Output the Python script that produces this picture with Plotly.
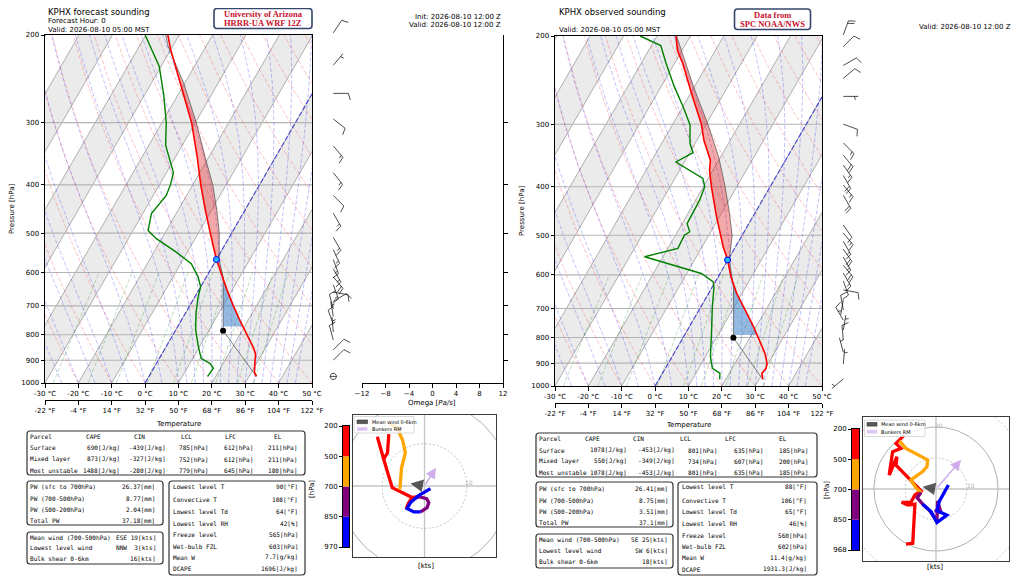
import numpy as np
import plotly.graph_objects as go

# the page body keeps an 8 px margin, so the figure is sized to fill the rest of the window
OX, OY = 8, 8
W, H = 1024 - OX, 578 - OY
MONO = "DejaVu Sans Mono"
SANS = "DejaVu Sans"

# ---------------- KPHX forecast sounding (left) ----------------
fc_p = [970, 950, 900, 875, 850, 800, 750, 700, 650, 600, 565, 500, 450, 400, 350, 300, 250, 214, 200]
fc_t = [32.2, 30.8, 29.0, 28.1, 26.4, 22.1, 17.7, 13.1, 8.4, 3.6, 0.0, -6.4, -11.8, -17.6, -23.7, -31.1, -41.3, -50.0, -53.4]
fc_td_p = [970, 934, 913, 893, 872, 839, 783, 725, 672, 641, 612, 576, 546, 513, 494, 457, 420, 400, 378, 333, 300, 263, 231, 200]
fc_td = [17.6, 17.9, 16.0, 12.6, 11.3, 9.3, 6.0, 3.2, 1.0, 0.0, -2.5, -6.8, -13.3, -21.6, -25.5, -27.4, -26.1, -26.7, -27.9, -35.0, -38.7, -44.4, -50.6, -60.2]
fc_parcel_p = [970, 785, 770, 700, 650, 612, 565, 500, 450, 400, 350, 300, 250, 211, 200]
fc_parcel_t = [32.2, 14.3, 13.6, 10.0, 7.2, 5.0, 0.8, -3.7, -8.4, -14.0, -21.4, -29.7, -40.3, -51.3, -54.0]
fc_lcl, fc_lfc, fc_el, fc_cin_base, fc_freeze = 785, 612, 211, 770, 565

fc_barb_p = [198, 230, 262, 295, 334, 378, 420, 456, 510, 540, 565, 590, 612, 635, 657, 685, 710, 735, 762, 790, 820, 858, 900, 970]
fc_barb_dir = [34, 40, 90, 128, 140, 142, 135, 150, 150, 155, 160, 150, 140, 160, 100, 60, 345, 350, 340, 355, 345, 45, 45, 340]
fc_barb_spd = [10, 5, 10, 10, 15, 15, 10, 15, 15, 15, 15, 15, 20, 15, 10, 10, 10, 5, 10, 5, 10, 10, 10, 3]

fc_hodo_red_u = [-11.1, -9.6, -8.7, -8.4, None, -9.6, -7.6, -2.9, -1.3, None, -2.9, -3.7, -4.3]
fc_hodo_red_v = [11.6, 6.3, 7.8, 12.2, None, 6.3, -0.4, -2.7, -2.5, None, -2.7, -3.9, -5.3]
fc_hodo_orange_u = [-8.2, -6.4, -5.1, -4.5, -5.4, -5.8]
fc_hodo_orange_v = [14.5, 13.7, 10.6, 7.8, 4.3, -0.8]
fc_hodo_purple_u = [-0.9, 0.6, 1.0, 0.5, -1.3, -2.5]
fc_hodo_purple_v = [-6.1, -5.1, -3.9, -3.0, -2.5, -3.0]
fc_hodo_blue_u = [1.4, -1.3, -3.3, -4.1, -2.5, -0.9]
fc_hodo_blue_v = [-0.6, -2.2, -3.9, -5.3, -6.1, -6.1]
fc_mean_wind = (-3.3, 0.6)
fc_bunkers = (2.7, 4.3)
fc_cbar_labels = ["970", "850", "700", "500", "200"]

fc_parcel_table = [["Parcel", "CAPE", "CIN", "LCL", "LFC", "EL"],
                   ["Surface", "690[J/kg]", "-439[J/kg]", "785[hPa]", "612[hPa]", "211[hPa]"],
                   ["Mixed layer", "873[J/kg]", "-327[J/kg]", "752[hPa]", "612[hPa]", "211[hPa]"],
                   ["Most unstable", "1488[J/kg]", "-280[J/kg]", "779[hPa]", "645[hPa]", "180[hPa]"]]
fc_pw_table = [["PW (sfc to 700hPa)", "26.37[mm]"], ["PW (700-500hPa)", "8.77[mm]"],
               ["PW (500-200hPa)", "2.04[mm]"], ["Total PW", "37.18[mm]"]]
fc_wind_table = [["Mean wind (700-500hPa)", "ESE 19[kts]"], ["Lowest level wind", "NNW  3[kts]"],
                 ["Bulk shear 0-6km", "16[kts]"]]
fc_misc_table = [["Lowest level T", "90[°F]"], ["Convective T", "108[°F]"], ["Lowest level Td", "64[°F]"],
                 ["Lowest level RH", "42[%]"], ["Freeze level", "565[hPa]"], ["Wet-bulb FZL", "603[hPa]"],
                 ["Mean W", "7.7[g/kg]"], ["DCAPE", "1696[J/kg]"]]

# ---------------- KPHX observed sounding (right) ----------------
ob_p = [970, 943, 922, 901, 861, 810, 761, 705, 653, 605, 561, 527, 488, 459, 400, 371, 354, 323, 299, 265, 227, 214, 200]
ob_t = [31.1, 29.8, 30.2, 29.6, 27.3, 23.3, 19.2, 13.8, 8.4, 3.8, 0.0, -3.7, -7.8, -10.9, -17.6, -21.0, -22.5, -27.9, -31.6, -38.7, -47.5, -51.3, -54.3]
ob_td_p = [970, 943, 922, 874, 772, 694, 634, 619, 596, 552, 531, 500, 492, 474, 426, 400, 385, 357, 342, 328, 301, 277, 253, 227, 209, 200]
ob_td = [18.2, 17.2, 14.1, 11.5, 7.2, 3.4, 0.5, -0.7, -5.6, -25.5, -17.0, -17.3, -16.3, -18.5, -18.8, -19.6, -21.6, -32.5, -29.0, -31.5, -34.7, -39.9, -45.9, -52.5, -57.2, -65.0]
ob_parcel_p = [970, 801, 791, 700, 635, 560, 500, 450, 400, 350, 300, 250, 200]
ob_parcel_t = [31.1, 15.1, 14.7, 10.1, 6.4, 0.4, -3.0, -7.8, -13.5, -20.4, -29.5, -40.9, -54.1]
ob_lcl, ob_lfc, ob_el, ob_cin_base, ob_freeze = 801, 635, 200, 791, 560

ob_barb_p = [199, 210, 229, 243, 264, 300, 327, 346, 362, 380, 397, 416, 477, 495, 514, 533, 553, 574, 595, 617, 643, 673, 705, 739, 773, 810, 856, 904, 968]
ob_barb_dir = [20, 45, 60, 50, 90, 110, 135, 140, 145, 150, 140, 150, 145, 140, 150, 145, 150, 140, 150, 160, 100, 190, 350, 330, 10, 355, 345, 5, 230]
ob_barb_spd = [20, 10, 10, 10, 5, 10, 15, 20, 15, 20, 15, 20, 10, 15, 15, 20, 15, 20, 15, 10, 10, 5, 10, 10, 5, 10, 5, 5, 6]

ob_hodo_red_u = [-10.4, -12.9, -11.3, -14.0, -15.1, -12.6, -12.9, -8.1, -4.8, -6.8, -8.1, -11.1, -9.1, -6.8, -7.5, -9.7]
ob_hodo_red_v = [17.2, 14.7, 13.1, 12.0, 4.5, 10.4, 7.7, 2.9, -0.6, -1.9, -4.3, -4.3, -5.2, -4.9, -17.5, -17.8]
ob_hodo_orange_u = [-11.8, -9.7, -2.7, -2.9, -4.3, -8.1, -6.5, -4.8]
ob_hodo_orange_v = [15.5, 13.1, 9.4, 7.2, 5.6, 2.9, 0.4, -1.1]
ob_hodo_purple_u = [-4.8, -6.1, -4.3, -2.2, 0.3, 0.5, 1.6, -0.5]
ob_hodo_purple_v = [-1.1, -2.8, -4.9, -6.8, -10.3, -3.9, -7.5, -7.0]
ob_hodo_blue_u = [4.0, 1.1, 0.3, 3.5, 0.3, -1.6, -4.3]
ob_hodo_blue_v = [1.3, -3.9, -7.0, -8.4, -10.8, -7.3, -4.9]
ob_mean_wind = (-4.3, 0.75)
ob_bunkers = (8.1, 9.4)
ob_cbar_labels = ["968", "850", "700", "500", "200"]

ob_parcel_table = [["Parcel", "CAPE", "CIN", "LCL", "LFC", "EL"],
                   ["Surface", "1078[J/kg]", "-453[J/kg]", "801[hPa]", "635[hPa]", "185[hPa]"],
                   ["Mixed layer", "550[J/kg]", "-349[J/kg]", "734[hPa]", "607[hPa]", "200[hPa]"],
                   ["Most unstable", "1078[J/kg]", "-453[J/kg]", "801[hPa]", "635[hPa]", "185[hPa]"]]
ob_pw_table = [["PW (sfc to 700hPa)", "26.41[mm]"], ["PW (700-500hPa)", "8.75[mm]"],
               ["PW (500-200hPa)", "3.51[mm]"], ["Total PW", "37.1[mm]"]]
ob_wind_table = [["Mean wind (700-500hPa)", "SE 25[kts]"], ["Lowest level wind", "SW 6[kts]"],
                 ["Bulk shear 0-6km", "18[kts]"]]
ob_misc_table = [["Lowest level T", "88[°F]"], ["Convective T", "106[°F]"], ["Lowest level Td", "65[°F]"],
                 ["Lowest level RH", "46[%]"], ["Freeze level", "560[hPa]"], ["Wet-bulb FZL", "602[hPa]"],
                 ["Mean W", "11.4[g/kg]"], ["DCAPE", "1931.3[J/kg]"]]

# shared axis labels
t_ticks = list(range(-30, 51, 10))
f_ticks = list(range(-22, 123, 18))
p_ticks = [200, 300, 400, 500, 600, 700, 800, 900, 1000]
omega_ticks = [-12, -8, -4, 0, 4, 8, 12]
layer_colors = ["blue", "purple", "orange", "red"]


def fx(px):
    return (px - OX) / W


def fy(py):
    return 1 - (py - OY) / H


def interp_logp(pn, p, t):
    p = np.asarray(p, float)
    t = np.asarray(t, float)
    o = np.argsort(p)
    return np.interp(np.log(pn), np.log(p[o]), t[o])


def moist_adiabats(t0, p):
    Rd, Cp, Lv, eps = 287.04, 1005.7, 2.501e6, 0.622

    def f(pp, T):
        tc = T - 273.15
        es = 6.112 * np.exp(17.67 * tc / (tc + 243.5))
        rs = eps * es / (pp - es)
        return (Rd * T + Lv * rs) / (Cp + Lv * Lv * rs * eps / (Rd * T * T)) / pp

    T = np.asarray(t0, float) + 273.15
    out = [T.copy()]
    for i in range(1, len(p)):
        h = p[i] - p[i - 1]
        k1 = f(p[i - 1], T)
        k2 = f(p[i - 1] + h / 2, T + h / 2 * k1)
        k3 = f(p[i - 1] + h / 2, T + h / 2 * k2)
        k4 = f(p[i], T + h * k3)
        T = T + h / 6 * (k1 + 2 * k2 + 2 * k3 + k4)
        out.append(T.copy())
    return np.array(out).T - 273.15


fig = go.Figure()
shapes, annos = [], []
NOHOVER = dict(hoverinfo="skip", showlegend=False)


def lines_trace(xs_list, ys_list, xa, ya, color, width, dash=None):
    X, Y = [], []
    for xs, ys in zip(xs_list, ys_list):
        X += list(xs) + [None]
        Y += list(ys) + [None]
    fig.add_trace(go.Scatter(x=X, y=Y, mode="lines", xaxis=xa, yaxis=ya,
                             line=dict(color=color, width=width, dash=dash), **NOHOVER))


def add_skewt(g, xa, ya, env_p, env_t, td_p, td_t, par_p, par_t, lcl, lfc, el, cin_base, frz):
    skew = (g["bot"] - g["top"]) * np.tan(np.radians(30)) / ((g["x1"] - g["x0"]) / 80.0) / np.log10(5)

    def sx(t, p):
        return (np.asarray(t, float) + skew * np.log10(1000.0 / np.asarray(p, float))).tolist()

    # shaded isotherm bands
    bx, by = [], []
    for t0 in range(-120, 60, 20):
        bx += sx([t0, t0 + 10, t0 + 10, t0], [1000, 1000, 200, 200]) + [None]
        by += [1000, 1000, 200, 200, None]
    fig.add_trace(go.Scatter(x=bx, y=by, mode="lines", fill="toself", fillcolor="rgba(0,0,0,0.08)",
                             line=dict(width=0), xaxis=xa, yaxis=ya, **NOHOVER))
    iso = list(range(-110, 60, 10))
    lines_trace([sx([t, t], [1000, 200]) for t in iso], [[1000, 200]] * len(iso), xa, ya, "#a6a6a6", 0.9)
    lines_trace([[-30, 50] for _ in p_ticks[1:-1]], [[p, p] for p in p_ticks[1:-1]], xa, ya, "#b4b4b4", 1.1)

    pp = np.linspace(1000, 200, 81)
    dry = [(t0 + 273.15) * (pp / 1000.0) ** 0.2857 - 273.15 for t0 in range(-40, 200, 10)]
    lines_trace([sx(t, pp) for t in dry], [pp] * len(dry), xa, ya, "rgba(255,0,0,0.3)", 0.8, "4px,2px")
    m0 = np.concatenate((np.arange(-50.0, 10.1, 5.0), np.arange(12.5, 45.1, 2.5)))
    moist = moist_adiabats(m0, pp)
    lines_trace([sx(t, pp) for t in moist], [pp] * len(moist), xa, ya, "rgba(0,0,255,0.3)", 0.8, "4px,2px")
    pm = np.linspace(1000, 600, 21)
    mix = []
    for w in [0.0004, 0.001, 0.002, 0.004, 0.007, 0.01, 0.016, 0.024, 0.032]:
        e = pm * w / (0.622 + w)
        le = np.log(e / 6.112)
        mix.append(243.5 * le / (17.67 - le))
    lines_trace([sx(t, pm) for t in mix], [pm] * len(mix), xa, ya, "rgba(0,128,0,0.33)", 0.8, "4px,2px")
    lines_trace([sx([0, 0], [1000, 200])], [[1000, 200]], xa, ya, "rgba(40,40,220,0.75)", 1.2, "5px,2px")

    # CIN / CAPE shading
    def band(p_top, p_bot, color):
        lv = sorted(set([p for p in list(env_p) + list(par_p) if p_top < p < p_bot] + [p_top, p_bot]), reverse=True)
        te = interp_logp(lv, env_p, env_t)
        tp = interp_logp(lv, par_p, par_t)
        fig.add_trace(go.Scatter(x=sx(te, lv) + sx(tp[::-1], lv[::-1]), y=lv + lv[::-1], mode="lines",
                                 fill="toself", fillcolor=color, line=dict(width=0), xaxis=xa, yaxis=ya, **NOHOVER))

    band(lfc, cin_base, "rgba(60,130,200,0.55)")
    band(el, lfc, "rgba(225,40,40,0.4)")

    lines_trace([sx(par_t, par_p)], [par_p], xa, ya, "rgba(70,70,70,0.75)", 0.9)
    lines_trace([sx(env_t, env_p)], [env_p], xa, ya, "red", 1.6)
    lines_trace([sx(td_t, td_p)], [td_p], xa, ya, "green", 1.4)
    fig.add_trace(go.Scatter(x=sx([interp_logp(lcl, par_p, par_t)], [lcl]), y=[lcl], mode="markers",
                             marker=dict(color="black", size=6), xaxis=xa, yaxis=ya, **NOHOVER))
    fig.add_trace(go.Scatter(x=sx([interp_logp(frz, env_p, env_t)], [frz]), y=[frz], mode="markers",
                             marker=dict(color="#22b4ff", size=6, line=dict(color="blue", width=1)),
                             xaxis=xa, yaxis=ya, **NOHOVER))


def add_barbs(xa, ya, x_tip, k, bp, bd, bs):
    L, fl, sp, lean = 15.0, 7.0, 2.6, np.radians(17)
    X, Y = [], []
    for p, d, s in zip(bp, bd, bs):
        th = np.radians(d)
        ux, uy = np.sin(th), -np.cos(th)
        qx, qy = -uy, ux

        def pt(a, b):
            return x_tip + a * ux + b * qx, p * 10 ** ((a * uy + b * qy) * k)

        if s < 4:
            ang = np.linspace(0, 2 * np.pi, 25)
            X += list(x_tip + 3.2 * np.cos(ang)) + [None, x_tip - 3.2, x_tip + 3.2, None]
            Y += list(p * 10 ** (3.2 * np.sin(ang) * k)) + [None, p, p, None]
            continue
        r = int(5 * round(s / 5.0))
        nf, nh = r // 10, (r % 10) // 5
        segs = [(pt(0, 0), pt(L, 0))]
        for i in range(nf):
            a = L - i * sp
            segs.append((pt(a, 0), pt(a + fl * np.sin(lean), fl * np.cos(lean))))
        if nh:
            a = L - nf * sp if nf else L - 1.5 * sp
            segs.append((pt(a, 0), pt(a + 0.5 * fl * np.sin(lean), 0.5 * fl * np.cos(lean))))
        for p0, p1 in segs:
            X += [p0[0], p1[0], None]
            Y += [p0[1], p1[1], None]
    fig.add_trace(go.Scatter(x=X, y=Y, mode="lines", xaxis=xa, yaxis=ya,
                             line=dict(color="black", width=0.7), **NOHOVER))


def add_hodo(xa, ya, segs, mean_uv, bunk_uv, ring_labels):
    ang = np.linspace(0, 2 * np.pi, 121)
    for r in [10, 20, 30, 40]:
        dotted = r in (10, 30)
        lines_trace([r * np.cos(ang)], [r * np.sin(ang)], xa, ya, "#c6c6c6" if dotted else "#b0b0b0",
                    1.0, "2px,2px" if dotted else None)
    lines_trace([[-50, 50], [0, 0]], [[0, 0], [-50, 50]], xa, ya, "#c4c4c4", 1.3)
    for (u, v), c in zip(segs, ["red", "orange", "purple", "blue"]):
        lines_trace([u], [v], xa, ya, c, 3.3)
    annos.append(dict(x=mean_uv[0], y=mean_uv[1], ax=0, ay=0, xref=xa, yref=ya, axref=xa, ayref=ya, text="",
                      showarrow=True, arrowhead=2, arrowsize=1.4, arrowwidth=1.8, arrowcolor="rgba(60,60,60,0.85)"))
    annos.append(dict(x=bunk_uv[0], y=bunk_uv[1], ax=0, ay=0, xref=xa, yref=ya, axref=xa, ayref=ya, text="",
                      showarrow=True, arrowhead=2, arrowsize=1.4, arrowwidth=1.5, arrowcolor="rgba(200,160,235,0.85)"))
    for (u, v, s) in ring_labels:
        annos.append(dict(x=u, y=v, xref=xa, yref=ya, text=s, showarrow=False,
                          font=dict(family=SANS, size=6, color="#b0b0b0")))


def add_cbar(xa, ya, labels):
    fig.add_trace(go.Bar(x=[0.5] * 4, y=[1] * 4, base=[0, 1, 2, 3], width=[1] * 4,
                         marker=dict(color=layer_colors, line=dict(width=0)), xaxis=xa, yaxis=ya, **NOHOVER))
    return dict(range=[0, 4], tickvals=[0, 1, 2, 3, 4], ticktext=labels)


def txt(x, y, s, size=6.1, anchor="left", family=MONO, color="black", angle=0):
    annos.append(dict(x=fx(x), y=fy(y), xref="paper", yref="paper", text=s, showarrow=False, xanchor=anchor,
                      yanchor="middle", textangle=angle, borderpad=0,
                      font=dict(family=family, size=size, color=color)))


def rbox(x0, y0, x1, y1, r=3.0, color="#333333", width=1.2):
    X0, X1, Y0, Y1 = fx(x0), fx(x1), fy(y0), fy(y1)
    rx, ry = r / W, r / H
    path = (f"M {X0 + rx},{Y0} L {X1 - rx},{Y0} Q {X1},{Y0} {X1},{Y0 - ry} L {X1},{Y1 + ry} "
            f"Q {X1},{Y1} {X1 - rx},{Y1} L {X0 + rx},{Y1} Q {X0},{Y1} {X0},{Y1 + ry} "
            f"L {X0},{Y0 - ry} Q {X0},{Y0} {X0 + rx},{Y0} Z")
    shapes.append(dict(type="path", xref="paper", yref="paper", path=path,
                       line=dict(color=color, width=width), fillcolor="rgba(0,0,0,0)"))


def rect(x0, y0, x1, y1, fill, line="rgba(0,0,0,0)"):
    shapes.append(dict(type="rect", xref="paper", yref="paper", x0=fx(x0), x1=fx(x1), y0=fy(y1), y1=fy(y0),
                       fillcolor=fill, line=dict(color=line, width=0.6)))


def tables(parcel, pw, wind, misc, g):
    rbox(*g["t1"])
    for i, row in enumerate(parcel):
        y = g["t1_rows"][i]
        txt(g["t1_hx"][0], y, row[0])
        for j in range(1, 6):
            if i == 0:
                txt(g["t1_hx"][j], y, row[j])
            else:
                txt(g["t1_vx"][j - 1], y, row[j], anchor="right")
    for box, rows, data, lx, vx in [(g["t2"], g["t2_rows"], pw, g["t2"][0] + 1.5, g["t2_vx"]),
                                    (g["t3"], g["t3_rows"], wind, g["t3"][0] + 1.5, g["t3_vx"]),
                                    (g["t4"], g["t4_rows"], misc, g["t4"][0] + 2.5, g["t4_vx"])]:
        rbox(*box)
        for (a, b), y in zip(data, rows):
            txt(lx, y, a)
            txt(vx, y, b, anchor="right")


# ---------------- geometry (window pixels) ----------------
LG = dict(x0=45, x1=312, top=35, bot=383, fpos=400)
RG = dict(x0=555, x1=822, top=36, bot=386, fpos=403)
LT = dict(t1=(27, 431, 305, 475), t1_rows=[436, 447.5, 459, 470.5],
          t1_hx=[28.5, 85, 133, 180, 224, 272.5], t1_vx=[120.5, 167, 208.5, 253.5, 298],
          t2=(27, 481, 163, 525), t2_rows=[486.7, 498.3, 509.5, 520.5], t2_vx=156,
          t3=(27, 532, 163, 564), t3_rows=[537, 547.7, 558.3], t3_vx=157,
          t4=(169, 481, 305, 575), t4_rows=[487, 499.5, 511.5, 523, 534.8, 546, 557, 568.5], t4_vx=299)
RT = dict(t1=(536, 433, 817, 477), t1_rows=[438.5, 450, 461.2, 472.7],
          t1_hx=[537.5, 583.5, 632, 678.5, 723.5, 777.5], t1_vx=[627.5, 675.5, 717.5, 763.5, 808.5],
          t2=(536, 482, 673, 527), t2_rows=[488.5, 500, 511.5, 522.5], t2_vx=668.5,
          t3=(536, 534, 673, 568), t3_rows=[539.5, 550.3, 561], t3_vx=668.5,
          t4=(678, 482, 817, 575), t4_rows=[487, 500, 511.7, 523.3, 535.7, 546.7, 557.7, 569.3], t4_vx=807.5)

add_skewt(LG, "x", "y", fc_p, fc_t, fc_td_p, fc_td, fc_parcel_p, fc_parcel_t,
          fc_lcl, fc_lfc, fc_el, fc_cin_base, fc_freeze)
add_skewt(RG, "x7", "y7", ob_p, ob_t, ob_td_p, ob_td, ob_parcel_p, ob_parcel_t,
          ob_lcl, ob_lfc, ob_el, ob_cin_base, ob_freeze)

kL = np.log10(5) / (LG["bot"] - LG["top"])
kR = np.log10(5) / (RG["bot"] - RG["top"])
add_barbs("x3", "y3", 333.3, kL, fc_barb_p, fc_barb_dir, fc_barb_spd)
add_barbs("x9", "y9", 843.3, kR, ob_barb_p, ob_barb_dir, ob_barb_spd)

# placeholders so empty axes are drawn
for xa, ya, xv, yv in [("x2", "y", 0, 500), ("x4", "y4", 0, 500), ("x8", "y7", 0, 500)]:
    fig.add_trace(go.Scatter(x=[xv], y=[yv], mode="markers", marker=dict(opacity=0), xaxis=xa, yaxis=ya, **NOHOVER))

add_hodo("x5", "y5", [(fc_hodo_red_u, fc_hodo_red_v), (fc_hodo_orange_u, fc_hodo_orange_v),
                      (fc_hodo_purple_u, fc_hodo_purple_v), (fc_hodo_blue_u, fc_hodo_blue_v)],
         fc_mean_wind, fc_bunkers, [(10.4, 0.9, "10")])
add_hodo("x10", "y10", [(ob_hodo_red_u, ob_hodo_red_v), (ob_hodo_orange_u, ob_hodo_orange_v),
                        (ob_hodo_purple_u, ob_hodo_purple_v), (ob_hodo_blue_u, ob_hodo_blue_v)],
         ob_mean_wind, ob_bunkers, [(11.2, 1.0, "10"), (0.9, 20.6, "20")])
cbL = add_cbar("x6", "y6", fc_cbar_labels)
cbR = add_cbar("x11", "y11", ob_cbar_labels)

tables(fc_parcel_table, fc_pw_table, fc_wind_table, fc_misc_table, LT)
tables(ob_parcel_table, ob_pw_table, ob_wind_table, ob_misc_table, RT)

# hodograph legends
for (bx0, by0, bx1, by1, px0, px1, ty1, ty2) in [(354, 416.5, 414, 433, 357, 367.5, 421.8, 429),
                                                  (864.5, 420, 925, 436.5, 867, 877, 424.3, 431.7)]:
    shapes.append(dict(type="rect", xref="paper", yref="paper", x0=fx(bx0), x1=fx(bx1), y0=fy(by1), y1=fy(by0),
                       fillcolor="rgba(255,255,255,0.8)", line=dict(color="#d0d0d0", width=0.8)))
    rect(px0, ty1 - 1.8, px1, ty1 + 1.8, "rgba(60,60,60,0.85)", "#333")
    rect(px0, ty2 - 1.8, px1, ty2 + 1.8, "rgba(200,160,235,0.6)")
    txt(px1 + 3, ty1, "Mean wind 0-6km", size=5, family=SANS)
    txt(px1 + 3, ty2, "Bunkers RM", size=5, family=SANS)

# headers
txt(47, 12, "KPHX forecast sounding", size=8.5, family=SANS)
txt(47, 21.5, "Forecast Hour: 0", size=7, family=SANS)
txt(47, 30, "Valid: 2026-08-10 05:00 MST", size=7, family=SANS)
txt(502, 17, "Init: 2026-08-10 12:00 Z", size=7, family=SANS, anchor="right")
txt(502, 25.5, "Valid: 2026-08-10 12:00 Z", size=7, family=SANS, anchor="right")
rbox(214, 8.5, 312, 28.5, r=3, color="#34466b", width=1.6)
txt(263, 14, "<b>University of Arizona</b>", size=8.5, family="Liberation Serif", anchor="center", color="#c8102e")
txt(263, 23, "<b>HRRR-UA WRF 12Z</b>", size=8.5, family="Liberation Serif", anchor="center", color="#c8102e")

txt(558, 12, "KPHX observed sounding", size=8.5, family=SANS)
txt(558, 30, "Valid: 2026-08-10 05:00 MST", size=7, family=SANS)
txt(1012, 27, "Valid: 2026-08-10 12:00 Z", size=7, family=SANS, anchor="right")
rbox(734.5, 9, 810.5, 29.5, r=3, color="#34466b", width=1.6)
txt(772.5, 14.8, "<b>Data from</b>", size=8.5, family="Liberation Serif", anchor="center", color="#c8102e")
txt(772.5, 23.7, "<b>SPC NOAA/NWS</b>", size=8.5, family="Liberation Serif", anchor="center", color="#c8102e")

# axis titles
txt(12, 209, "Pressure [hPa]", size=7, family=SANS, anchor="center", angle=-90)
txt(522, 211, "Pressure [hPa]", size=7, family=SANS, anchor="center", angle=-90)
txt(178, 424, "Temperature", size=7, family=SANS, anchor="center")
txt(688, 425, "Temperature", size=7, family=SANS, anchor="center")
txt(432, 403, "Omega [<i>Pa/s</i>]", size=7, family=SANS, anchor="center")
txt(425.5, 566, "[kts]", size=7, family=SANS, anchor="center")
txt(935, 567, "[kts]", size=7, family=SANS, anchor="center")
txt(312, 489, "[hPa]", size=7, family=SANS, anchor="center", angle=-90)
txt(827, 490, "[hPa]", size=7, family=SANS, anchor="center", angle=-90)

# ---------------- axes ----------------
TF = dict(family=SANS, size=7, color="black")
frame = dict(showline=True, mirror=True, linecolor="black", linewidth=1, showgrid=False, zeroline=False,
             ticks="outside", ticklen=3.5, tickcolor="black", tickfont=TF, fixedrange=True, automargin=False)
hidden = dict(visible=False, fixedrange=True, automargin=False)


def skew_axes(g, xa, ya, fa):
    lay = {}
    lay[xa] = dict(frame, domain=[fx(g["x0"]), fx(g["x1"])], range=[-30, 50], anchor=ya.replace("axis", ""),
                   tickvals=t_ticks, ticktext=[f"{t} °C" for t in t_ticks])
    lay[ya] = dict(frame, domain=[fy(g["bot"]), fy(g["top"])], type="log", range=[3, np.log10(200)],
                   anchor=xa.replace("axis", ""), tickvals=p_ticks, ticktext=[str(p) for p in p_ticks])
    lay[fa] = dict(showline=True, linecolor="black", linewidth=1, showgrid=False, zeroline=False, ticks="outside",
                   ticklen=3.5, tickcolor="black", tickfont=TF, overlaying=xa.replace("axis", ""), anchor="free",
                   position=fy(g["fpos"]), side="bottom", range=[-22, 122], tickvals=f_ticks,
                   ticktext=[f"{t} °F" for t in f_ticks], fixedrange=True, automargin=False)
    return lay


layout = {}
layout.update(skew_axes(LG, "xaxis", "yaxis", "xaxis2"))
layout.update(skew_axes(RG, "xaxis7", "yaxis7", "xaxis8"))

for xa, ya, x0, x1, g, k, ytop in [("xaxis3", "yaxis3", 314, 360, LG, kL, 9), ("xaxis9", "yaxis9", 824, 884, RG, kR, 9)]:
    ybot = 396
    layout[xa] = dict(hidden, domain=[fx(x0), fx(x1)], range=[x0, x1], anchor=ya.replace("axis", ""))
    layout[ya] = dict(hidden, domain=[fy(ybot), fy(ytop)], type="log", anchor=xa.replace("axis", ""),
                      range=[3 + (ybot - g["bot"]) * k, np.log10(200) - (g["top"] - ytop) * k])

layout["xaxis4"] = dict(showline=True, linecolor="black", linewidth=1, showgrid=False, zeroline=False,
                        ticks="outside", ticklen=3.5, tickcolor="black", tickfont=TF, domain=[fx(362), fx(503)],
                        range=[-12, 12], anchor="y4", tickvals=omega_ticks,
                        ticktext=[str(v).replace("-", "\u2212") for v in omega_ticks], fixedrange=True,
                        automargin=False)
layout["yaxis4"] = dict(showline=True, linecolor="black", linewidth=1, showgrid=False, zeroline=False,
                        ticks="outside", ticklen=3.5, tickcolor="black", showticklabels=False, side="right",
                        anchor="x4", domain=[fy(LG["bot"]), fy(LG["top"])], type="log", range=[3, np.log10(200)],
                        tickvals=p_ticks[1:-1], fixedrange=True, automargin=False)

hodo_frame = dict(showline=True, mirror=True, linecolor="#3a3a3a", linewidth=1.3, showgrid=False,
                  zeroline=False, showticklabels=False, ticks="", fixedrange=True, automargin=False)
for xa, ya, x0, x1, y0, y1, ppk in [("xaxis5", "yaxis5", 353, 496, 415, 557, 4.25),
                                    ("xaxis10", "yaxis10", 863, 1009, 417, 561, 3.1)]:
    hx, hy = (x1 - x0) / 2 / ppk, (y1 - y0) / 2 / ppk
    layout[xa] = dict(hodo_frame, domain=[fx(x0), fx(x1)], range=[-hx, hx], anchor=ya.replace("axis", ""))
    layout[ya] = dict(hodo_frame, domain=[fy(y1), fy(y0)], range=[-hy, hy], anchor=xa.replace("axis", ""))

for xa, ya, x0, x1, y0, y1, cb in [("xaxis6", "yaxis6", 343, 349, 426, 547, cbL),
                                   ("xaxis11", "yaxis11", 852, 859, 429, 550, cbR)]:
    layout[xa] = dict(showline=True, mirror=True, linecolor="black", linewidth=1, showticklabels=False,
                      ticks="", showgrid=False, zeroline=False, domain=[fx(x0), fx(x1)], range=[0, 1],
                      anchor=ya.replace("axis", ""), fixedrange=True, automargin=False)
    layout[ya] = dict(frame, domain=[fy(y1), fy(y0)], anchor=xa.replace("axis", ""), ticklen=3, **cb)

fig.update_layout(template="none", width=W, height=H, margin=dict(l=0, r=0, t=0, b=0, pad=0), autosize=False,
                  paper_bgcolor="white", plot_bgcolor="rgba(0,0,0,0)", showlegend=False,
                  font=dict(family=SANS, size=7, color="black"), shapes=shapes, annotations=annos,
                  barmode="overlay", **layout)
fig.write_html("out.html")
